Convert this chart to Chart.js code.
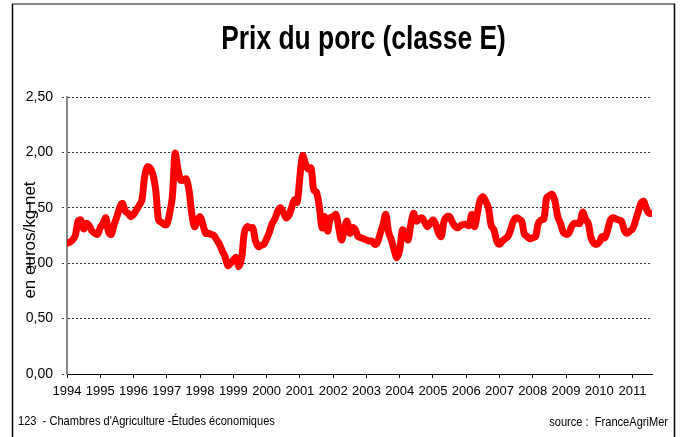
<!DOCTYPE html>
<html><head><meta charset="utf-8">
<script src="https://cdn.jsdelivr.net/npm/chart.js@4.4.1/dist/chart.umd.min.js"></script>
<style>html,body{margin:0;padding:0;background:#fff;}canvas{display:block;}</style>
</head><body>
<canvas id="c" width="686" height="437"></canvas>
<script>
const chartTitle = 'Prix du porc (classe E)';
const yAxisTitle = 'en euros/kg net';
const footerLeft = "123  - Chambres d'Agriculture -Études économiques";
const footerRight = 'source :  FranceAgriMer';
const years = ['1994','1995','1996','1997','1998','1999','2000','2001','2002','2003','2004','2005','2006','2007','2008','2009','2010','2011'];
const yTickLabels = ['0,00','0,50','1,00','1,50','2,00','2,50'];
// monthly prices, Jan 1994 - Aug 2011 (euros/kg net)
const prices = [
  1.18,1.19,1.21,1.25,1.38,1.39,1.31,1.36,1.34,1.29,1.27,1.26, // 1994
  1.32,1.36,1.41,1.28,1.26,1.35,1.42,1.50,1.54,1.47,1.45,1.42, // 1995
  1.44,1.48,1.52,1.57,1.78,1.87,1.86,1.80,1.66,1.39,1.37,1.35, // 1996
  1.35,1.45,1.60,1.99,1.85,1.75,1.75,1.76,1.66,1.45,1.33,1.38, // 1997
  1.42,1.35,1.27,1.27,1.26,1.25,1.21,1.17,1.11,1.06,0.98,1.00, // 1998
  1.03,1.05,0.97,1.05,1.28,1.33,1.32,1.32,1.20,1.15,1.16,1.17, // 1999
  1.22,1.28,1.36,1.40,1.47,1.50,1.46,1.41,1.43,1.50,1.57,1.55, // 2000
  1.78,1.97,1.90,1.85,1.86,1.66,1.64,1.51,1.32,1.42,1.29,1.41, // 2001
  1.42,1.44,1.32,1.21,1.30,1.38,1.27,1.32,1.30,1.24,1.23,1.22, // 2002
  1.21,1.20,1.20,1.17,1.19,1.27,1.35,1.44,1.28,1.21,1.12,1.05, // 2003
  1.12,1.30,1.27,1.21,1.35,1.45,1.38,1.40,1.41,1.37,1.33,1.36, // 2004
  1.39,1.35,1.27,1.24,1.38,1.42,1.42,1.37,1.33,1.32,1.34,1.35, // 2005
  1.35,1.34,1.44,1.33,1.45,1.57,1.60,1.56,1.50,1.34,1.30,1.20, // 2006
  1.17,1.20,1.22,1.24,1.30,1.38,1.41,1.40,1.38,1.26,1.24,1.22, // 2007
  1.23,1.24,1.36,1.39,1.40,1.59,1.61,1.62,1.56,1.42,1.36,1.28, // 2008
  1.26,1.27,1.33,1.36,1.36,1.36,1.46,1.40,1.36,1.23,1.18,1.17, // 2009
  1.19,1.24,1.23,1.30,1.39,1.41,1.40,1.39,1.38,1.30,1.27,1.29, // 2010
  1.31,1.38,1.46,1.54,1.56,1.49,1.45,1.45                      // 2011
];

const startYear = Number(years[0]);
const points = prices.map((v, i) => ({ x: startYear + i / 12, y: v }));

const FONT = "'Liberation Sans',Arial,sans-serif";

function narrowText(ctx, text, x, y, sx) {
  ctx.save();
  ctx.translate(x, y);
  ctx.scale(sx, 1);
  ctx.fillText(text, 0, 0);
  ctx.restore();
}

const decor = {
  id: 'decor',
  beforeDraw(chart) {
    const ctx = chart.ctx;
    ctx.save();
    ctx.fillStyle = '#fff';
    ctx.fillRect(0, 0, chart.width, chart.height);
    ctx.strokeStyle = '#888';
    ctx.lineWidth = 2;
    ctx.beginPath(); ctx.moveTo(12, 4); ctx.lineTo(675, 4); ctx.stroke();
    ctx.strokeStyle = '#000';
    ctx.lineWidth = 1.5;
    ctx.beginPath(); ctx.moveTo(12.5, 4); ctx.lineTo(12.5, 437); ctx.stroke();
    ctx.beginPath(); ctx.moveTo(674.5, 4); ctx.lineTo(674.5, 437); ctx.stroke();
    ctx.restore();
  },
  afterDraw(chart) {
    const ctx = chart.ctx;
    const a = chart.chartArea;
    ctx.save();
    ctx.fillStyle = '#000';
    ctx.textBaseline = 'middle';
    ctx.textAlign = 'center';
    ctx.font = "bold 33px " + FONT;
    narrowText(ctx, chartTitle, (a.left + a.right) / 2 + 4, 40, 0.8);
    ctx.save();
    ctx.translate(30, 240);
    ctx.rotate(-Math.PI / 2);
    ctx.font = "17px " + FONT;
    ctx.fillText(yAxisTitle, 0, 0);
    ctx.restore();
    ctx.font = "13.5px " + FONT;
    ctx.textAlign = 'left';
    narrowText(ctx, footerLeft, 18, 421, 0.82);
    ctx.textAlign = 'right';
    narrowText(ctx, footerRight, 668, 422, 0.82);
    ctx.restore();
  }
};

new Chart(document.getElementById('c'), {
  type: 'line',
  data: {
    datasets: [{
      data: points,
      borderColor: '#ff0000',
      borderWidth: 7,
      pointRadius: 0,
      tension: 0.35,
      fill: false,
      borderCapStyle: 'round',
      borderJoinStyle: 'round'
    }]
  },
  options: {
    responsive: false,
    animation: false,
    events: [],
    layout: { padding: { top: 97, right: 34, left: 0, bottom: 0 } },
    plugins: { legend: { display: false }, tooltip: { enabled: false }, title: { display: false } },
    scales: {
      x: {
        type: 'linear',
        min: startYear,
        max: startYear + (prices.length - 1) / 12,
        afterBuildTicks(scale) { scale.ticks = years.map(y => ({ value: Number(y) })); },
        afterFit(scale) { scale.height = 63; },
        ticks: {
          autoSkip: false, maxRotation: 0, minRotation: 0, padding: 6,
          color: '#000', font: { family: FONT, size: 13 },
          callback: (v, i) => years[i]
        },
        grid: { drawOnChartArea: false, drawTicks: true, tickLength: 4, tickColor: '#000', tickWidth: 1 },
        border: { display: true, color: '#000', width: 1 }
      },
      y: {
        min: 0, max: 2.5,
        afterBuildTicks(scale) { scale.ticks = yTickLabels.map((_, i) => ({ value: i * 0.5 })); },
        afterFit(scale) { scale.width = 67; },
        ticks: {
          padding: 9, color: '#000', font: { family: FONT, size: 14 },
          callback: (v, i) => yTickLabels[i]
        },
        grid: { color: '#333', lineWidth: 1, tickLength: 5, tickColor: '#333', tickBorderDash: [2, 2] },
        border: { display: true, color: '#888', width: 2, dash: [2, 2] }
      }
    }
  },
  plugins: [decor]
});
</script>
</body></html>
